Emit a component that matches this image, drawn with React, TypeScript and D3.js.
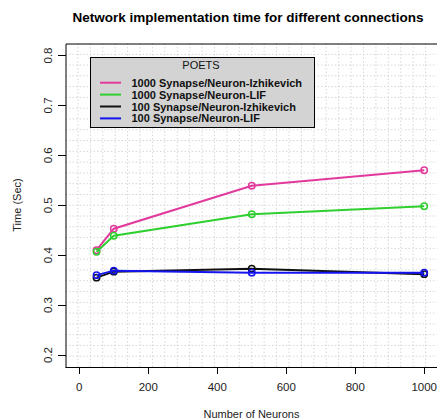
import React from "react";
import * as d3 from "d3";

const neurons = [50, 100, 500, 1000];
const izh1000 = [0.41, 0.453, 0.539, 0.57];
const lif1000 = [0.407, 0.439, 0.482, 0.498];
const izh100 = [0.355, 0.367, 0.373, 0.362];
const lif100 = [0.36, 0.369, 0.365, 0.365];
const seriesNames = [
  "1000 Synapse/Neuron-Izhikevich",
  "1000 Synapse/Neuron-LIF",
  "100 Synapse/Neuron-Izhikevich",
  "100 Synapse/Neuron-LIF",
];
const seriesColors = ["#e23a9c", "#2ecf2e", "#111111", "#1414ee"];
const xTicks = [0, 200, 400, 600, 800, 1000];
const yTicks = [0.2, 0.3, 0.4, 0.5, 0.6, 0.7, 0.8];

const W = 437;
const H = 419;
const FONT = "'Liberation Sans', Arial, Helvetica, sans-serif";

export default function App() {
  const seriesValues = [izh1000, lif1000, izh100, lif100];
  const x = d3.scaleLinear().domain([-40, 1040]).range([65.5, 438]);
  const y = d3.scaleLinear().domain([0.176, 0.824]).range([367, 43.5]);
  const line = d3
    .line<[number, number]>()
    .x((d) => x(d[0]))
    .y((d) => y(d[1]));

  const gridX = d3.range(1, 30).map((i) => -40 + (1080 / 30) * i);
  const gridY = d3.range(1, 30).map((i) => 0.176 + (0.648 / 30) * i);

  const drawOrder = [0, 1, 2, 3];
  const legX = 90;
  const legY = 57;
  const legRowY = [82.7, 94.6, 106.5, 118.4];

  return (
    <svg
      width={W}
      height={H}
      style={{ position: "fixed", left: 0, top: 0, background: "#fff" }}
      fontFamily={FONT}
    >
      <rect x={0} y={0} width={W} height={H} fill="#fff" />
      {/* grid */}
      <g stroke="#d6d6d6" strokeWidth={1} strokeDasharray="1.5,2">
        {gridX.map((v, i) => (
          <line key={"gx" + i} x1={x(v)} x2={x(v)} y1={y(0.176)} y2={y(0.824)} />
        ))}
        {gridY.map((v, i) => (
          <line key={"gy" + i} x1={x(-40)} x2={x(1040)} y1={y(v)} y2={y(v)} />
        ))}
      </g>
      {/* box */}
      <g stroke="#000" strokeWidth={1} fill="none">
        <line x1={66} x2={438} y1={44} y2={44} />
        <line x1={66} x2={66} y1={44} y2={367.5} />
        <line x1={65.5} x2={438} y1={367.5} y2={367.5} />
      </g>
      {/* x axis */}
      <g>
        {xTicks.map((t) => (
          <g key={"xt" + t}>
            <line x1={Math.round(x(t)) + 0.5} x2={Math.round(x(t)) + 0.5} y1={367} y2={374} stroke="#000" />
            <text x={x(t)} y={391} textAnchor="middle" fontSize={11.5} fill="#222">
              {t}
            </text>
          </g>
        ))}
      </g>
      {/* y axis */}
      <g>
        {yTicks.map((t) => (
          <g key={"yt" + t}>
            <line x1={58} x2={66} y1={Math.round(y(t)) + 0.5} y2={Math.round(y(t)) + 0.5} stroke="#000" />
            <text
              transform={`translate(52,${y(t)}) rotate(-90)`}
              textAnchor="middle"
              fontSize={11.5}
              fill="#222"
            >
              {t.toFixed(1)}
            </text>
          </g>
        ))}
      </g>
      {/* series */}
      {drawOrder.map((si) => {
        const pts: [number, number][] = neurons.map((n, i) => [n, seriesValues[si][i]]);
        return (
          <g key={"s" + si}>
            <path d={line(pts) || ""} fill="none" stroke={seriesColors[si]} strokeWidth={2} />
            {pts.map((p, i) => (
              <circle
                key={i}
                cx={x(p[0])}
                cy={y(p[1])}
                r={3.2}
                fill="none"
                stroke={seriesColors[si]}
                strokeWidth={1.5}
              />
            ))}
          </g>
        );
      })}
      {/* legend */}
      <rect x={legX + 0.5} y={legY + 0.5} width={224} height={70} fill="#d3d3d3" stroke="#000" strokeWidth={1} />
      <text x={201} y={69} textAnchor="middle" fontSize={11} fill="#111">
        POETS
      </text>
      {seriesNames.map((name, i) => (
        <g key={"lg" + i}>
          <line x1={100} x2={121} y1={legRowY[i]} y2={legRowY[i]} stroke={seriesColors[i]} strokeWidth={2} />
          <text x={131.5} y={legRowY[i] + 4} fontSize={11} fontWeight="bold" fill="#111">
            {name}
          </text>
        </g>
      ))}
      {/* titles */}
      <text x={248} y={21.5} textAnchor="middle" fontSize={13.5} fontWeight="bold" fill="#000">
        Network implementation time for different connections
      </text>
      <text x={251.5} y={418} textAnchor="middle" fontSize={11} fill="#222">
        Number of Neurons
      </text>
      <text transform={`translate(21,205) rotate(-90)`} textAnchor="middle" fontSize={11} fill="#222">
        Time (Sec)
      </text>
    </svg>
  );
}
